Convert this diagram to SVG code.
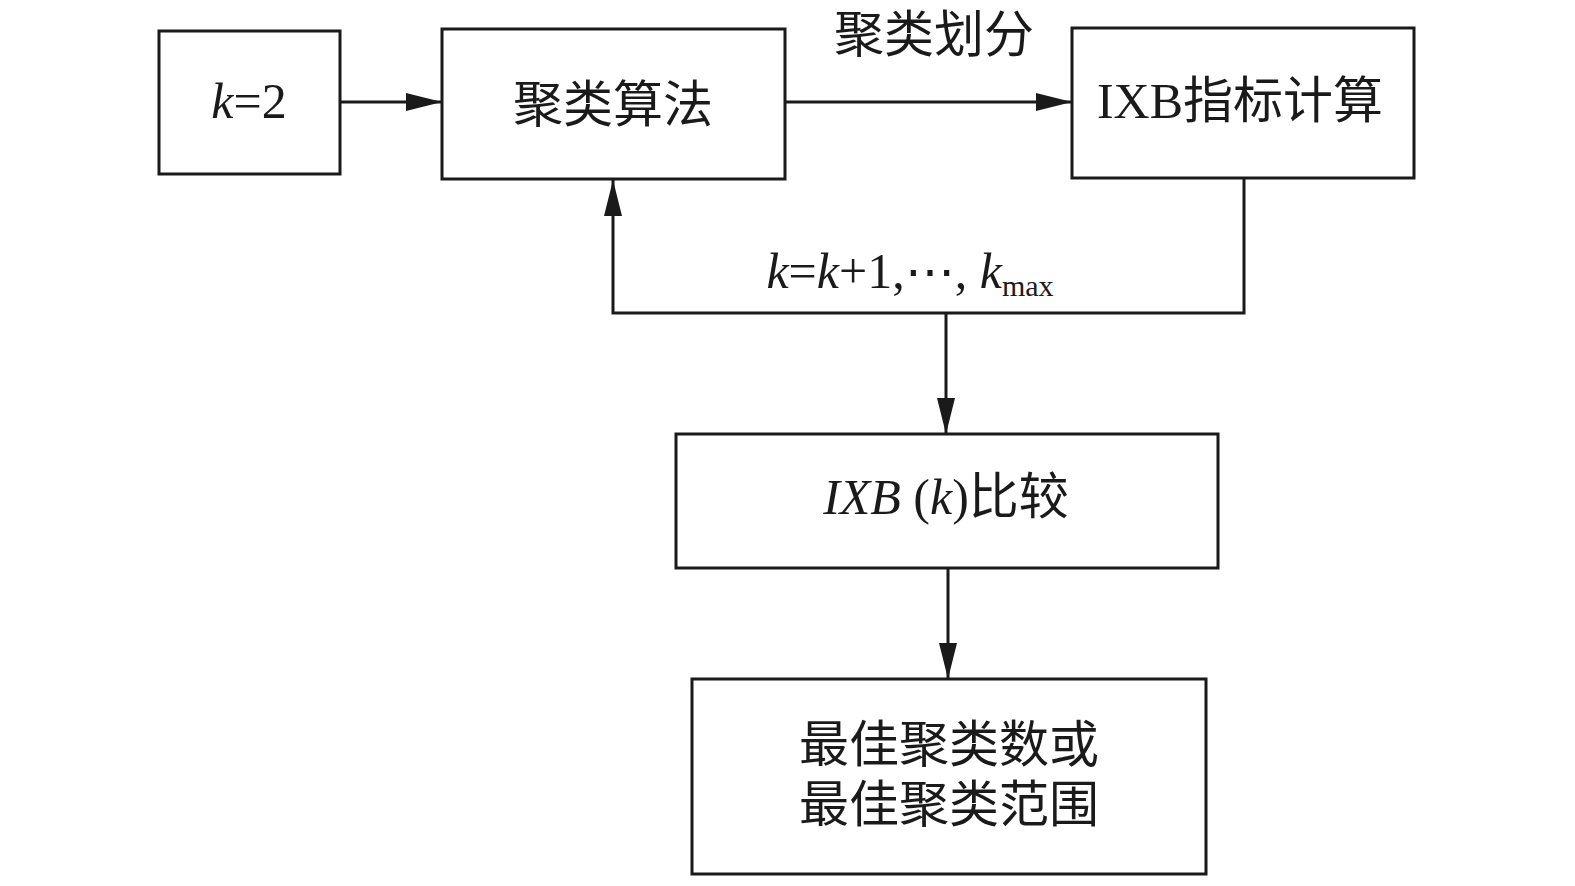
<svg xmlns="http://www.w3.org/2000/svg" width="1575" height="886" viewBox="0 0 1575 886">
<style>
.box{fill:#fff;stroke:#1a1a1a;stroke-width:3}
.ln{fill:none;stroke:#1a1a1a;stroke-width:3}
.t{font-family:"Liberation Serif","Noto Sans CJK SC",serif;font-size:50px;fill:#1a1a1a;text-anchor:middle}
.i{font-style:italic}
.sub{font-size:30px}
.dots{font-family:"DejaVu Serif",serif;font-size:50px}
</style>
<defs>
<marker id="ah" viewBox="0 0 36 18" refX="36" refY="9" markerWidth="36" markerHeight="18" markerUnits="userSpaceOnUse" orient="auto">
<path d="M0,0 L36,9 L0,18 Z" fill="#1a1a1a"/>
</marker>
</defs>
<g id="connectors">
<line class="ln" x1="340" y1="102" x2="442" y2="102" marker-end="url(#ah)"/>
<line class="ln" x1="785" y1="102" x2="1072" y2="102" marker-end="url(#ah)"/>
<polyline class="ln" points="1244,178 1244,313 613,313 613,180" marker-end="url(#ah)"/>
<line class="ln" x1="946" y1="313" x2="946" y2="434" marker-end="url(#ah)"/>
<line class="ln" x1="948" y1="568" x2="948" y2="679" marker-end="url(#ah)"/>
<text class="t" x="934" y="52">聚类划分</text>
<text class="t" x="910" y="288"><tspan class="i">k</tspan>=<tspan class="i">k</tspan>+1,<tspan class="dots">⋯</tspan>, <tspan class="i">k</tspan><tspan class="sub" dy="8">max</tspan></text>
</g>
<g id="n_k2">
<rect class="box" x="159" y="31" width="181" height="143"/>
<text class="t" x="249" y="118"><tspan class="i">k</tspan>=2</text>
</g>
<g id="n_cluster">
<rect class="box" x="442" y="29" width="343" height="150"/>
<text class="t" x="613" y="122">聚类算法</text>
</g>
<g id="n_ixb">
<rect class="box" x="1072" y="28" width="342" height="150"/>
<text class="t" x="1240" y="118">IXB指标计算</text>
</g>
<g id="n_compare">
<rect class="box" x="676" y="434" width="542" height="134"/>
<text class="t" x="946" y="514"><tspan class="i">IXB</tspan> (<tspan class="i">k</tspan>)比较</text>
</g>
<g id="n_best">
<rect class="box" x="692" y="679" width="514" height="195"/>
<text class="t" x="949" y="762">最佳聚类数或</text>
<text class="t" x="949" y="822">最佳聚类范围</text>
</g>
</svg>
